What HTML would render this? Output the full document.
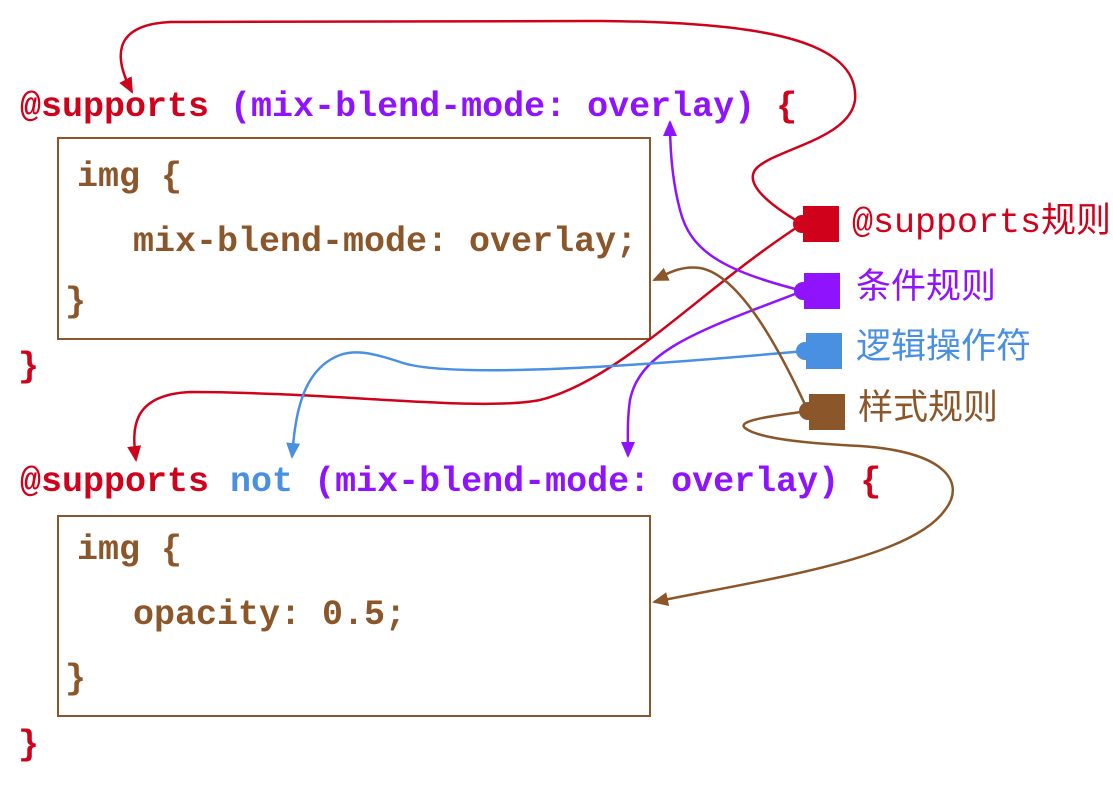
<!DOCTYPE html>
<html><head><meta charset="utf-8"><style>
body{margin:0;width:1113px;height:791px;background:#fff;position:relative;overflow:hidden;font-family:"Liberation Mono","Noto Sans CJK SC",monospace;}
.t{position:absolute;font-size:35px;white-space:pre;line-height:1;font-weight:bold;}
.r{color:#d0021b}.p{color:#9013fe}.b{color:#4a90e2}.w{color:#8b572a}
.box{position:absolute;border:2px solid #8b572a;box-sizing:border-box;}
.sq{position:absolute;width:36px;height:36px;}
.lab{position:absolute;font-size:35px;line-height:1;white-space:pre;font-family:"Liberation Mono","Noto Sans CJK SC",sans-serif;}
</style></head><body>
<div class="t" style="left:20px;top:90px"><span class="r">@supports</span> <span class="p">(mix-blend-mode: overlay)</span> <span class="r">{</span></div>
<div class="box" style="left:57px;top:137px;width:594px;height:203px"></div>
<div class="t w" style="left:77px;top:160px">img {</div>
<div class="t w" style="left:133px;top:225px">mix-blend-mode: overlay;</div>
<div class="t w" style="left:65px;top:285px">}</div>
<div class="t r" style="left:18px;top:350px">}</div>

<div class="t" style="left:20px;top:465px"><span class="r">@supports</span> <span class="b">not</span> <span class="p">(mix-blend-mode: overlay)</span> <span class="r">{</span></div>
<div class="box" style="left:57px;top:515px;width:594px;height:202px"></div>
<div class="t w" style="left:77px;top:533px">img {</div>
<div class="t w" style="left:133px;top:598px">opacity: 0.5;</div>
<div class="t w" style="left:65px;top:662px">}</div>
<div class="t r" style="left:18px;top:728px">}</div>

<div class="sq" style="left:803px;top:206px;background:#d0021b"></div>
<div class="sq" style="left:804px;top:273px;background:#9013fe"></div>
<div class="sq" style="left:806px;top:333px;background:#4a90e2"></div>
<div class="sq" style="left:809px;top:394px;background:#8b572a"></div>
<div class="lab r" style="left:852px;top:206px">@supports规则</div>
<div class="lab p" style="left:856px;top:272px">条件规则</div>
<div class="lab b" style="left:856px;top:332px">逻辑操作符</div>
<div class="lab w" style="left:858px;top:393px">样式规则</div>

<svg width="1113" height="791" style="position:absolute;left:0;top:0" fill="none" stroke-width="2.5">
<defs>
<marker id="mr" markerWidth="16" markerHeight="14" refX="14" refY="7" orient="auto" markerUnits="userSpaceOnUse" viewBox="0 0 16 14"><path d="M0,0L16,7L0,14z" fill="#d0021b"/></marker>
<marker id="mp" markerWidth="16" markerHeight="14" refX="14" refY="7" orient="auto" markerUnits="userSpaceOnUse" viewBox="0 0 16 14"><path d="M0,0L16,7L0,14z" fill="#9013fe"/></marker>
<marker id="mb" markerWidth="16" markerHeight="14" refX="14" refY="7" orient="auto" markerUnits="userSpaceOnUse" viewBox="0 0 16 14"><path d="M0,0L16,7L0,14z" fill="#4a90e2"/></marker>
<marker id="mw" markerWidth="16" markerHeight="14" refX="14" refY="7" orient="auto" markerUnits="userSpaceOnUse" viewBox="0 0 16 14"><path d="M0,0L16,7L0,14z" fill="#8b572a"/></marker>
</defs>
<circle cx="802" cy="224" r="9" fill="#d0021b"/>
<circle cx="803" cy="291" r="9" fill="#9013fe"/>
<circle cx="805" cy="351" r="9" fill="#4a90e2"/>
<circle cx="808" cy="411" r="9" fill="#8b572a"/>
<path stroke="#d0021b" marker-end="url(#mr)" d="M802,224 C770,205 745,185 755,170 C770,150 850,140 855,100 C860,40 760,22 600,21 L170,22 C110,25 115,60 132,92"/>
<path stroke="#d0021b" marker-end="url(#mr)" d="M802,224 C700,290 620,380 540,400 C480,412 330,392 190,392 C130,395 132,430 136,460"/>
<path stroke="#9013fe" marker-end="url(#mp)" d="M803,291 C720,270 690,250 680,210 C672,180 670,150 670,122"/>
<path stroke="#9013fe" marker-end="url(#mp)" d="M803,291 C700,330 640,350 630,400 C627,420 628,440 628,456"/>
<path stroke="#4a90e2" marker-end="url(#mb)" d="M805,351 C650,365 450,380 400,362 C370,352 355,350 340,355 C300,370 295,420 292,457"/>
<path stroke="#8b572a" marker-end="url(#mw)" d="M808,411 C780,350 740,275 700,268 C680,265 665,275 654,280"/>
<path stroke="#8b572a" marker-end="url(#mw)" d="M808,411 C780,415 735,420 745,428 C760,440 820,444 860,446 C950,452 965,485 945,510 C910,560 760,580 654,602"/>
</svg>
</body></html>
